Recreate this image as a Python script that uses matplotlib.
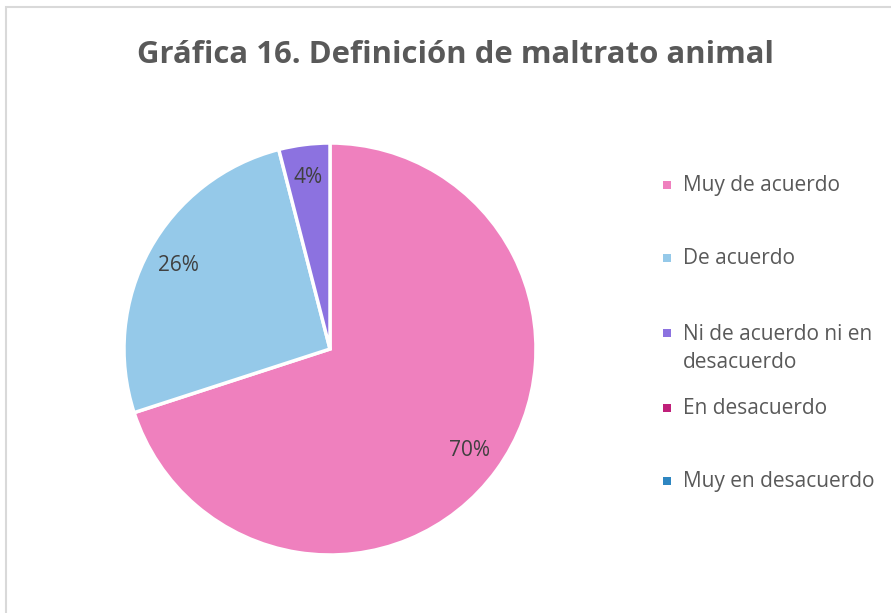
import matplotlib
matplotlib.use("Agg")
import matplotlib.pyplot as plt
from matplotlib.patches import Rectangle

labels = ["Muy de acuerdo", "De acuerdo", "Ni de acuerdo ni en\ndesacuerdo",
          "En desacuerdo", "Muy en desacuerdo"]
values = [70, 26, 4, 0, 0]
colors = ["#EF80BE", "#95C9E9", "#8C72E0", "#C0207A", "#2E86C1"]

plt.rcParams["font.family"] = ["Open Sans", "DejaVu Sans"]

W, H = 891, 613
fig = plt.figure(figsize=(W / 100, H / 100), dpi=100)

# chart area border (only top/left visible)
fig.add_artist(Rectangle((6 / W, -0.1), 1.2, (H - 7) / H + 0.1, transform=fig.transFigure,
                         fill=False, edgecolor="#D9D9D9", linewidth=1.5))

cx, cy, r = 330, 349, 206
ax = fig.add_axes([(cx - r) / W, (H - cy - r) / H, 2 * r / W, 2 * r / H])
ax.pie(values[:3], colors=colors[:3], startangle=90, counterclock=False, radius=1,
       autopct="%1.0f%%", pctdistance=0.84,
       wedgeprops=dict(edgecolor="white", linewidth=2.5),
       textprops=dict(color="#404040", fontsize=15))
ax.set_xlim(-1, 1)
ax.set_ylim(-1, 1)
ax.set_aspect("equal")
ax.axis("off")

fig.text(455 / W, 1 - 55 / H, "Gráfica 16. Definición de maltrato animal",
         ha="center", va="center", fontsize=22.4, fontweight="bold", color="#595959")

# legend
ys = [185, 258, 333, 408, 481]
for lab, col, y in zip(labels, colors, ys):
    fig.add_artist(Rectangle(((667 - 4) / W, 1 - (y + 4) / H), 8 / W, 8 / H,
                             transform=fig.transFigure, facecolor=col, edgecolor="none"))
    multi = "\n" in lab
    fig.text(683 / W, 1 - (y - 9 if multi else y) / H, lab, ha="left",
             va="top" if multi else "center",
             fontsize=15, color="#595959", linespacing=1.45,
             transform=fig.transFigure)

fig.savefig("out.png", dpi=100)
